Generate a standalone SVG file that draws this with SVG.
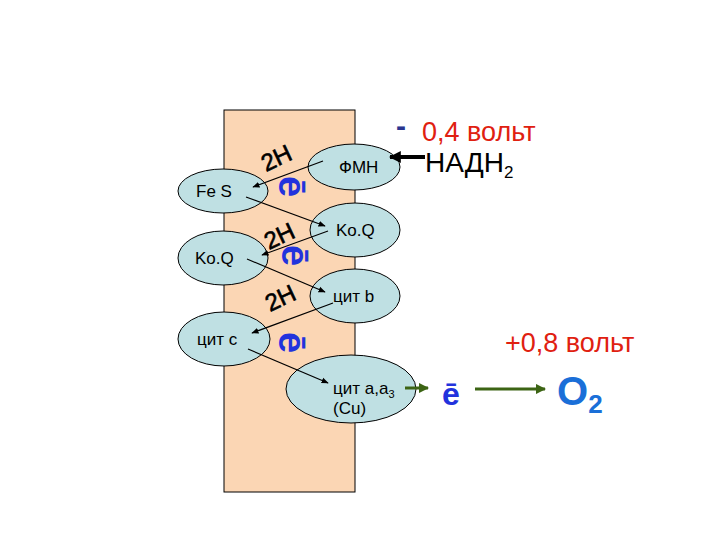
<svg xmlns="http://www.w3.org/2000/svg" width="720" height="540" viewBox="0 0 720 540">
<style>
.n{fill:#bfe0e3;stroke:#000;stroke-width:1}
.t{font-family:"Liberation Sans",Arial,sans-serif;font-size:17px;fill:#000}
.h{font-family:"Liberation Sans",Arial,sans-serif;font-size:24px;fill:#000;stroke:#000;stroke-width:0.6}
.e{font-family:"Liberation Sans",Arial,sans-serif;font-size:38px;font-weight:bold;fill:#2233dd}
.r{font-family:"Liberation Sans",Arial,sans-serif;font-size:27px;fill:#e02010}
.c{stroke:#000;stroke-width:1.2;fill:none;marker-end:url(#a)}
.g{stroke:#3c6414;stroke-width:3;fill:none;marker-end:url(#ga)}
</style>
<defs>
<marker id="a" viewBox="0 0 10 10" refX="9" refY="5" markerWidth="6" markerHeight="6" orient="auto"><path d="M0,1L10,5L0,9z" fill="#000"/></marker>
<marker id="ga" viewBox="0 0 10 10" refX="9" refY="5" markerWidth="3.5" markerHeight="3.5" orient="auto"><path d="M0,0L10,5L0,10z" fill="#3c6414"/></marker>
<marker id="ba" viewBox="0 0 10 10" refX="9" refY="5" markerWidth="3" markerHeight="3" orient="auto"><path d="M0,0L10,5L0,10z" fill="#000"/></marker>
</defs>
<rect x="224" y="110" width="131" height="382" fill="#fbd6b4" stroke="#000" stroke-width="1"/>
<g id="fmn"><ellipse class="n" cx="354" cy="167" rx="46" ry="23"/><text class="t" x="339" y="173">ФМН</text></g>
<g id="fes"><ellipse class="n" cx="223" cy="191" rx="45" ry="22"/><text class="t" x="196" y="197">Fe S</text></g>
<g id="koq1"><ellipse class="n" cx="355" cy="230" rx="45" ry="27"/><text class="t" x="336" y="236">Ko.Q</text></g>
<g id="koq2"><ellipse class="n" cx="223" cy="258" rx="45" ry="27"/><text class="t" x="195" y="264">Ko.Q</text></g>
<g id="citb"><ellipse class="n" cx="355" cy="296" rx="45" ry="27"/><text class="t" x="333" y="302">цит b</text></g>
<g id="citc"><ellipse class="n" cx="224" cy="339" rx="46" ry="27"/><text class="t" x="197" y="345">цит c</text></g>
<g id="cita"><ellipse class="n" cx="351" cy="389" rx="65" ry="34"/><text class="t" x="333" y="394">цит a,a<tspan font-size="11" dy="4">3</tspan></text><text class="t" x="333" y="414">(Cu)</text></g>
<g id="connectors">
<line class="c" x1="323" y1="161" x2="253" y2="187"/>
<line class="c" x1="246" y1="197" x2="325" y2="226"/>
<line class="c" x1="328" y1="231" x2="262" y2="255"/>
<line class="c" x1="247" y1="259" x2="325" y2="292"/>
<line class="c" x1="333" y1="303" x2="252" y2="333"/>
<line class="c" x1="248" y1="349" x2="328" y2="383"/>
<line x1="425" y1="157" x2="390" y2="157" stroke="#000" stroke-width="4" marker-end="url(#ba)"/>
<line class="g" x1="405" y1="388" x2="428" y2="388"/>
<line class="g" x1="475" y1="389" x2="545" y2="389"/>
</g>
<g id="labels">
<text class="h" transform="translate(266,172) rotate(-25)">2H</text>
<text class="h" transform="translate(269,250) rotate(-25)">2H</text>
<text class="h" transform="translate(270,312) rotate(-25)">2H</text>
<text class="e" transform="translate(279,176) rotate(90)">ē</text>
<text class="e" transform="translate(282,245) rotate(90)">ē</text>
<text class="e" transform="translate(279,332) rotate(90)">ē</text>
<text x="396" y="136" font-family="Liberation Sans,Arial,sans-serif" font-size="30" font-weight="bold" fill="#2a3590">-</text>
<text class="r" x="422" y="141">0,4 вольт</text>
<text x="425" y="172" font-family="Liberation Sans,Arial,sans-serif" font-size="28" fill="#000">НАДН<tspan font-size="17" dy="6">2</tspan></text>
<text class="r" x="505" y="352">+0,8 вольт</text>
<text x="442" y="405" font-family="Liberation Sans,Arial,sans-serif" font-size="32" font-weight="bold" fill="#2233dd">ē</text>
<text x="557" y="405" font-family="Liberation Sans,Arial,sans-serif" font-size="40" font-weight="bold" fill="#1a6fd8">O<tspan font-size="26" dy="8">2</tspan></text>
</g>
</svg>
